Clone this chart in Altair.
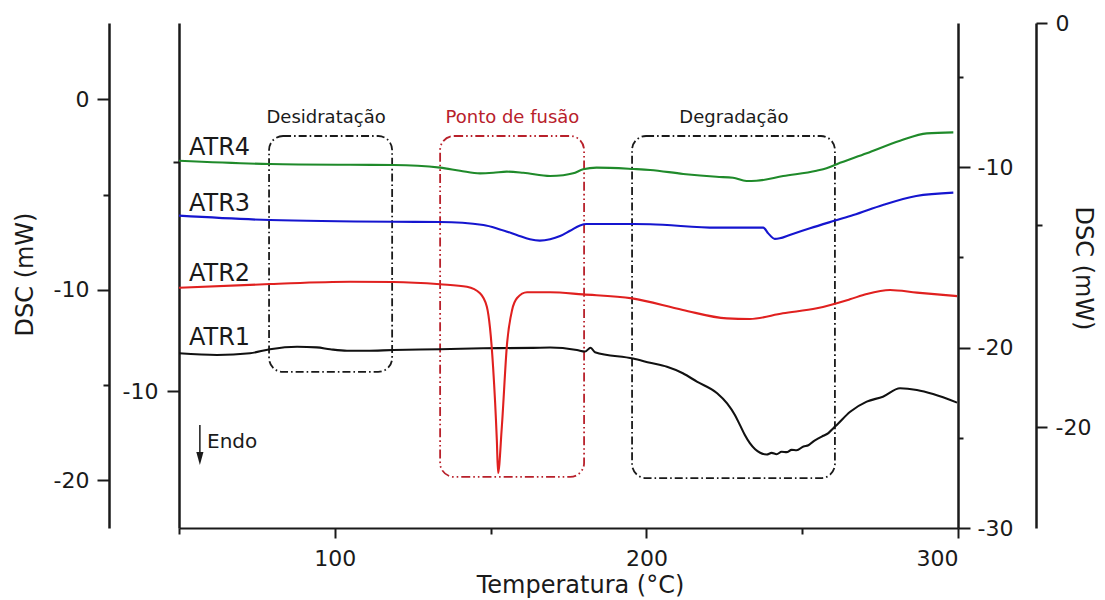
import altair as alt
import pandas as pd

FONT = "DejaVu Sans"
INK = "#1a1a1a"

# Temperature (°C) and heat flow (mW)
temp_atr1 = [50.0, 62.2, 72.8, 79.2, 87.9, 94.2, 98.5, 103.9, 110.2, 118.7, 133.8, 147.6, 163.6,
             169.1, 177.7, 180.3, 182.1, 183.5, 195.7, 201.2, 206.6, 211.7, 216.2, 222.7, 225.9,
             228.4, 230.0, 231.6, 233.2, 234.9, 236.5, 238.6, 240.2, 241.8, 243.4, 245.0, 246.6,
             248.2, 250.4, 252.0, 253.6, 255.2, 256.8, 258.4, 260.0, 261.1, 265.4, 270.7, 275.9,
             281.4, 286.8, 292.0, 299.7]
dsc_atr1 = [-13.33, -13.42, -13.33, -13.12, -12.99, -13.02, -13.12, -13.20, -13.20, -13.16, -13.12,
            -13.07, -13.05, -13.03, -13.16, -13.24, -13.04, -13.28, -13.61, -13.83, -14.04, -14.38,
            -14.82, -15.43, -15.96, -16.57, -17.09, -17.62, -18.05, -18.37, -18.55, -18.64, -18.56,
            -18.63, -18.50, -18.52, -18.40, -18.42, -18.22, -18.16, -17.95, -17.80, -17.66, -17.52,
            -17.26, -17.09, -16.40, -15.87, -15.61, -15.17, -15.26, -15.47, -15.92]

temp_atr2 = [50.0, 79.2, 104.9, 118.7, 133.8, 142.4, 146.6, 148.8, 150.8, 152.0, 152.4, 153.6,
             155.3, 156.9, 158.5, 161.7, 169.1, 179.6, 195.4, 211.7, 225.8, 233.2, 243.8, 254.7,
             265.3, 270.7, 278.2, 286.8, 299.7]
dsc_atr2 = [-9.89, -9.70, -9.58, -9.59, -9.71, -9.84, -10.18, -10.89, -14.05, -17.88, -19.61, -17.20,
            -12.79, -11.06, -10.43, -10.13, -10.13, -10.24, -10.45, -11.06, -11.50, -11.53, -11.23,
            -10.97, -10.50, -10.22, -10.01, -10.15, -10.33]

temp_atr3 = [50.0, 79.2, 118.8, 133.8, 147.7, 153.0, 158.4, 162.6, 165.8, 169.1, 172.3, 175.5,
             178.7, 180.8, 195.8, 201.2, 222.5, 237.5, 239.1, 241.2, 242.8, 246.0, 252.5, 260.5,
             266.4, 275.9, 286.6, 298.5]
dsc_atr3 = [-6.11, -6.34, -6.43, -6.44, -6.60, -6.83, -7.12, -7.35, -7.42, -7.35, -7.18, -6.90,
            -6.62, -6.55, -6.55, -6.56, -6.74, -6.74, -7.04, -7.33, -7.30, -7.12, -6.77, -6.37,
            -6.08, -5.55, -5.08, -4.90]

temp_atr4 = [50.0, 79.2, 104.9, 118.8, 133.8, 140.2, 146.6, 150.9, 155.2, 160.5, 169.1, 173.3,
             176.5, 179.7, 184.0, 195.8, 201.2, 211.8, 222.5, 227.8, 232.1, 235.3, 243.9, 254.6,
             257.8, 261.1, 270.7, 281.4, 290.0, 298.5]
dsc_atr4 = [-3.23, -3.40, -3.44, -3.45, -3.59, -3.75, -3.89, -3.86, -3.80, -3.86, -4.03, -3.99,
            -3.89, -3.68, -3.59, -3.66, -3.71, -3.92, -4.07, -4.12, -4.29, -4.28, -4.03, -3.75,
            -3.62, -3.41, -2.84, -2.18, -1.79, -1.74]

series_names = ["ATR1", "ATR2", "ATR3", "ATR4"]
series_colors = ["#111111", "#e0201f", "#1515cf", "#1f8a2a"]
label_temp = [53.2, 53.2, 53.2, 53.2]
label_dsc = [-12.90, -9.54, -5.87, -2.93]

# Event regions (temperature span, heat-flow span) and their captions
region_names = ["Desidratação", "Ponto de fusão", "Degradação"]
region_t0 = [78.9, 133.8, 195.4]
region_t1 = [118.4, 180.0, 260.5]
region_top = [-1.93, -1.93, -1.93]
region_bottom = [-14.31, -19.82, -19.88]
region_label_t = [97.2, 157.0, 228.1]
region_label_v = [-1.25, -1.25, -1.25]
region_colors = ["#1a1a1a", "#b8212b", "#1a1a1a"]

X_DOMAIN = [50, 300]
Y_DOMAIN = [-22.5, 4.0]          # outer left DSC axis
Y2_DOMAIN = [-15.98, 6.07]       # inner left DSC axis
Y3_DOMAIN = [-30.0, -2.0]        # inner right DSC axis
Y4_DOMAIN = [-25.0, 0.0]         # outer right DSC axis


def neg_labels(shown):
    cond = " || ".join(f"datum.value == {v}" for v in shown)
    return (f"({cond}) ? (datum.value < 0 ? '-' + abs(datum.value) : '' + datum.value) : ''")


axis_style = dict(grid=False, domainColor=INK, domainWidth=2.5, tickColor=INK, tickWidth=2,
                  labelFont=FONT, labelFontSize=22, labelColor=INK,
                  titleFont=FONT, titleFontSize=24, titleFontWeight="normal", titleColor=INK)

x_axis = alt.Axis(orient="bottom", values=[50, 100, 150, 200, 250, 300],
                  labelExpr=neg_labels([100, 200, 300]),
                  tickSize={"condition": {"test": "datum.value % 100 == 0", "value": 10}, "value": 6},
                  labelPadding=10, title="Temperatura (°C)", titleX=401, titleY=64,
                  titleBaseline="alphabetic", titleAlign="center",
                  **{**axis_style, "domainWidth": 2})
x_scale = alt.Scale(domain=X_DOMAIN, nice=False, zero=False)

y_scale = alt.Scale(domain=Y_DOMAIN, nice=False, zero=False)
y_axis = alt.Axis(orient="left", offset=70, values=[0, -5, -10, -15, -20],
                  labelExpr=neg_labels([0, -10, -20]),
                  tickSize={"condition": {"test": "datum.value % 10 == 0", "value": 12}, "value": 6},
                  labelPadding=8, title="DSC (mW)", titleX=-84, titleY=251, titleAngle=270,
                  titleBaseline="middle", titleAlign="center", **axis_style)


def xy(xf, yf):
    return dict(x=alt.X(xf, scale=x_scale, axis=x_axis),
                y=alt.Y(yf, scale=y_scale, axis=y_axis))


rows = []
for name, ts, vs in [("ATR1", temp_atr1, dsc_atr1), ("ATR2", temp_atr2, dsc_atr2),
                     ("ATR3", temp_atr3, dsc_atr3), ("ATR4", temp_atr4, dsc_atr4)]:
    for i, (t, v) in enumerate(zip(ts, vs)):
        rows.append({"serie": name, "T": t, "DSC": v, "i": i})
curves_df = pd.DataFrame(rows)

color_scale = alt.Scale(domain=series_names, range=series_colors)

curves = alt.Chart(curves_df).mark_line(strokeWidth=2.1, interpolate="monotone").encode(
    **xy("T:Q", "DSC:Q"),
    color=alt.Color("serie:N", scale=color_scale, legend=None),
    order="i:Q",
)

labels_df = pd.DataFrame({"serie": series_names, "T": label_temp, "DSC": label_dsc})
series_labels = alt.Chart(labels_df).mark_text(
    font=FONT, fontSize=24, align="left", baseline="alphabetic", color=INK
).encode(**xy("T:Q", "DSC:Q"), text="serie:N")

regions_df = pd.DataFrame({"name": region_names, "t0": region_t0, "t1": region_t1,
                           "top": region_top, "bottom": region_bottom,
                           "lt": region_label_t, "lv": region_label_v, "c": region_colors})

black_boxes = alt.Chart(regions_df[regions_df["name"] != "Ponto de fusão"]).mark_rect(
    fillOpacity=0, stroke="#1a1a1a", strokeWidth=1.8, strokeDash=[8, 3, 1.6, 3], cornerRadius=14
).encode(**xy("t0:Q", "top:Q"), x2="t1:Q", y2="bottom:Q")

red_box = alt.Chart(regions_df[regions_df["name"] == "Ponto de fusão"]).mark_rect(
    fillOpacity=0, stroke="#b8212b", strokeWidth=1.8, strokeDash=[9, 3, 1.6, 3, 1.6, 3], cornerRadius=14
).encode(**xy("t0:Q", "top:Q"), x2="t1:Q", y2="bottom:Q")

region_labels = alt.Chart(regions_df).mark_text(
    font=FONT, fontSize=18, align="center", baseline="alphabetic"
).encode(**xy("lt:Q", "lv:Q"), text="name:N",
         color=alt.Color("c:N", scale=None))

# "Endo" marker with a downward arrow
endo_df = pd.DataFrame({"T": [59.0], "DSC": [-18.32], "txt": ["Endo"]})
endo_text = alt.Chart(endo_df).mark_text(
    font=FONT, fontSize=20, align="left", baseline="alphabetic", color=INK
).encode(**xy("T:Q", "DSC:Q"), text="txt:N")

arrow_df = pd.DataFrame({"T": [56.7], "y0": [-17.09], "y1": [-18.51], "tip": [-18.85]})
arrow_shaft = alt.Chart(arrow_df).mark_rule(color=INK, strokeWidth=1.5).encode(
    **xy("T:Q", "y0:Q"), y2="y1:Q")
arrow_head = alt.Chart(arrow_df).mark_point(
    shape="M-0.55,-1L0.55,-1L0,1Z", filled=True, size=169, color=INK, opacity=1
).encode(**xy("T:Q", "tip:Q"))

main = alt.layer(black_boxes, red_box, curves, series_labels, region_labels,
                 endo_text, arrow_shaft, arrow_head)


def extra_axis(domain, axis):
    df = pd.DataFrame({"v": domain})
    return alt.Chart(df).mark_point(opacity=0).encode(
        y=alt.Y("v:Q", scale=alt.Scale(domain=domain, nice=False, zero=False), axis=axis))


inner_left = extra_axis(Y2_DOMAIN, alt.Axis(
    orient="left", offset=0, values=[0, -10], labelExpr=neg_labels([-10]),
    tickSize={"condition": {"test": "datum.value == -10", "value": 12}, "value": 6},
    labelPadding=9, title=None, **axis_style))

inner_right = extra_axis(Y3_DOMAIN, alt.Axis(
    orient="right", offset=0, values=[-5, -10, -15, -20, -25, -30],
    labelExpr=neg_labels([-10, -20, -30]),
    tickSize={"condition": {"test": "datum.value % 10 == 0", "value": 12}, "value": 5},
    labelPadding=7, title=None, **axis_style))

outer_right = extra_axis(Y4_DOMAIN, alt.Axis(
    orient="right", offset=78, values=[0, -10, -20], labelExpr=neg_labels([0, -20]),
    tickSize={"condition": {"test": "datum.value == -10", "value": 6}, "value": 11},
    labelPadding=8, title="DSC (mW)", titleX=46, titleY=245, titleAngle=90,
    titleBaseline="middle", titleAlign="center", **axis_style))

chart = alt.layer(main, inner_left, inner_right, outer_right).resolve_scale(
    y="independent"
).properties(
    width=779, height=505, autosize="none",
    padding={"left": 179, "top": 23, "right": 147, "bottom": 72},
    background="white",
).configure_view(stroke=None)

chart.save("out.html", embed_options={"renderer": "svg", "actions": False})
